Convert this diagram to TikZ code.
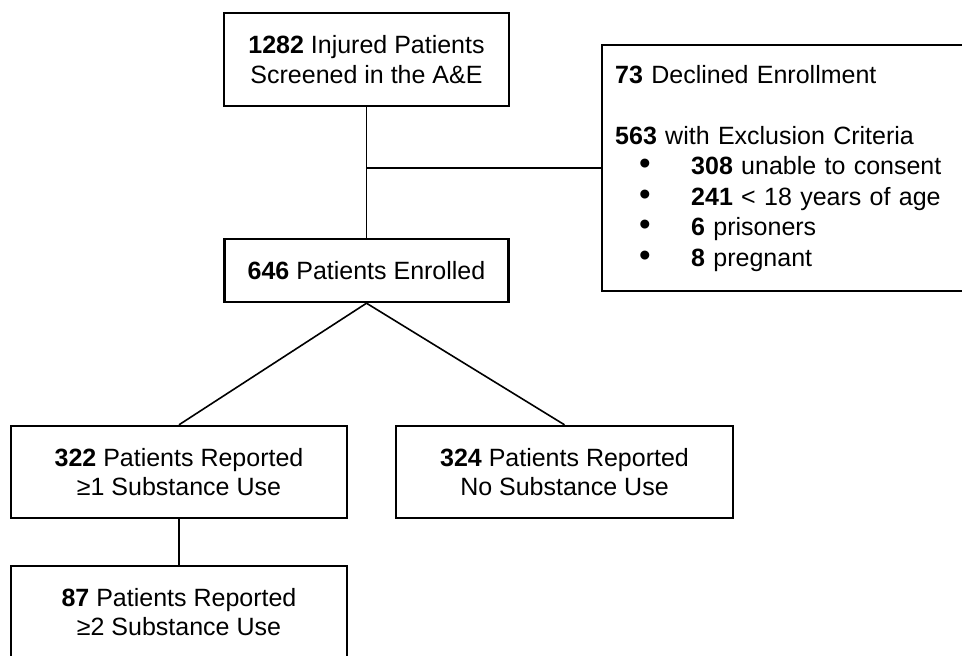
\documentclass[tikz,border=0pt]{standalone}
\usepackage{fontspec}
\setmainfont{Liberation Sans}
\newcommand\bulitem[1]{\hspace*{24pt}\makebox[52pt][l]{\fontsize{33}{30.5}\selectfont •}#1}
\begin{document}
\begin{tikzpicture}[x=1pt,y=-1pt,
  box/.style={draw=black, line width=2.4pt, fill=white, align=center,
              font=\fontsize{25}{29.5}\selectfont, inner sep=0pt},
  link/.style={draw=black, line width=1.6pt}]
\useasboundingbox (0,0) rectangle (962,656);
\clip (0,0) rectangle (962,656);
\fill[white] (0,0) rectangle (962,656);

\node[box, minimum width=285pt, minimum height=93pt] (n1) at (366.5,59.5)
  {\textbf{1282} Injured Patients\\Screened in the A\&E};
\node[box, minimum width=284pt, minimum height=63pt] (en) at (366.5,270.5)
  {\textbf{646} Patients Enrolled};
\node[box, anchor=north west, minimum height=246pt, text width=353pt,
      inner xsep=13pt, align=left, font=\fontsize{25}{30.5}\selectfont] (ex) at (601,44)
  {\textbf{73} Declined Enrollment\\[30.5pt]
   \textbf{563} with Exclusion Criteria\\
   \bulitem{\textbf{308} unable to consent}\\
   \bulitem{\textbf{241} < 18 years of age}\\
   \bulitem{\textbf{6} prisoners}\\
   \bulitem{\textbf{8} pregnant}};
\node[box, minimum width=336pt, minimum height=92pt] (s1) at (179,472)
  {\textbf{322} Patients Reported\\≥1 Substance Use};
\node[box, minimum width=337pt, minimum height=92pt] (s0) at (564.5,472)
  {\textbf{324} Patients Reported\\No Substance Use};
\node[box, minimum width=336pt, minimum height=92pt] (s2) at (179,612)
  {\textbf{87} Patients Reported\\≥2 Substance Use};

\draw[link] (n1.south) -- (en.north);
\draw[link] (n1.south |- ex.west) -- (ex.west);
\draw[link] (en.south) -- (s1.north);
\draw[link] (en.south) -- (s0.north);
\draw[link] (s1.south) -- (s2.north);
\end{tikzpicture}
\end{document}
